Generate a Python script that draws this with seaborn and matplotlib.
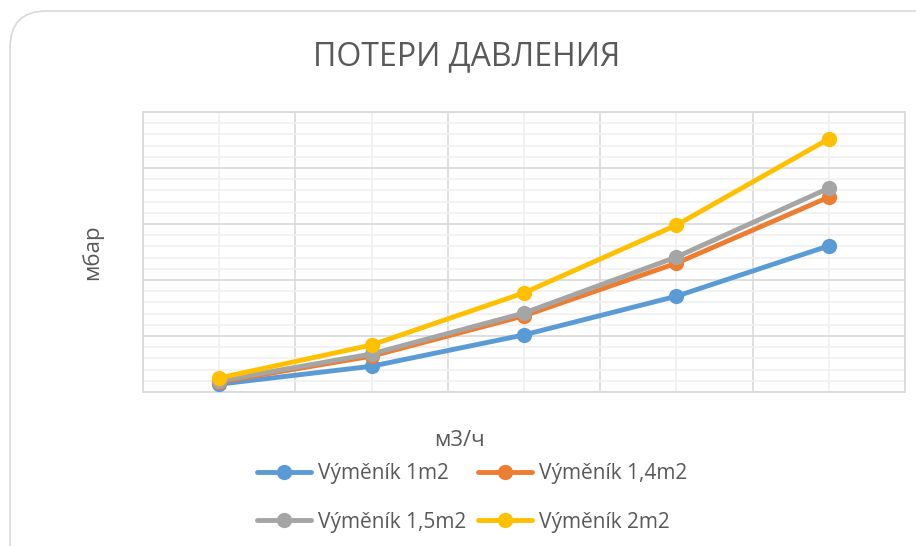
import numpy as np
import pandas as pd
import matplotlib
matplotlib.use("Agg")
import matplotlib.pyplot as plt
from matplotlib.patches import FancyBboxPatch
from matplotlib.ticker import MultipleLocator
import seaborn as sns

# расход, м3/ч (категории без подписей)
flow = [1, 2, 3, 4, 5]
# потери давления, мбар
v_1m2 = [1.4, 4.6, 10.2, 17.1, 26.1]
v_14m2 = [1.8, 6.4, 13.6, 23.0, 34.8]
v_15m2 = [2.0, 6.8, 14.1, 24.1, 36.4]
v_2m2 = [2.5, 8.4, 17.7, 29.8, 45.2]

series = ["Výměník 1m2", "Výměník 1,4m2", "Výměník 1,5m2", "Výměník 2m2"]
colors = ["#5B9BD5", "#ED7D31", "#A5A5A5", "#FFC000"]

df = pd.DataFrame({
    "x": list(range(len(flow))) * 4,
    "y": v_1m2 + v_14m2 + v_15m2 + v_2m2,
    "serie": [s for s in series for _ in flow],
})

sns.set_style("white")
plt.rcParams['font.family'] = ['Open Sans', 'DejaVu Sans']
txt = "#595959"

fig = plt.figure(figsize=(9.16, 5.46), dpi=100)
# рамка диаграммы со скруглёнными углами
frame = FancyBboxPatch((10 / 916, -0.2), 1.2, 1.2 - 11 / 546,
                       boxstyle="round,pad=0,rounding_size=0.04",
                       transform=fig.transFigure, fc="white", ec="#d9d9d9", lw=1.2,
                       mutation_aspect=916 / 546, zorder=-10)
fig.patches.append(frame)

ax = fig.add_axes([143 / 916, 1 - 392 / 546, (905 - 143) / 916, (392 - 112) / 546])
ax.set_facecolor("none")

sns.lineplot(data=df, x="x", y="y", hue="serie", palette=colors, ax=ax,
             marker="o", markersize=11, markeredgewidth=0, linewidth=3.5, zorder=3)

ax.set_xlim(-0.5, len(flow) - 0.5)
ax.set_ylim(0, 50)
ax.set_xticks(np.arange(-0.5, len(flow), 1.0))
ax.set_xticks(np.arange(0, len(flow), 1.0), minor=True)
ax.yaxis.set_major_locator(MultipleLocator(10))
ax.yaxis.set_minor_locator(MultipleLocator(2))
ax.grid(which="major", color="#d9d9d9", lw=1.2)
ax.grid(which="minor", color="#f0f0f0", lw=1.2)
ax.tick_params(which="both", length=0, labelleft=False, labelbottom=False)
for sp in ax.spines.values():
    sp.set_color("#d9d9d9")
    sp.set_linewidth(1.2)

ax.set_xlabel("")
ax.set_ylabel("")
fig.text(467 / 916, 1 - 57 / 546, "ПОТЕРИ ДАВЛЕНИЯ", ha="center", va="center",
         fontsize=23, color=txt)
fig.text(92 / 916, 1 - 252 / 546, "мбар", ha="center", va="center", rotation=90,
         fontsize=16, color=txt)
fig.text(459 / 916, 1 - 440 / 546, "м3/ч", ha="center", va="center",
         fontsize=16, color=txt)

handles, labels = ax.get_legend_handles_labels()
ax.legend_.remove()
order = [0, 2, 1, 3]
fig.legend([handles[i] for i in order], [labels[i] for i in order], ncol=2,
           loc="center", bbox_to_anchor=(472 / 916, 1 - 498 / 546),
           frameon=False, fontsize=15, labelcolor=txt, handlelength=2.6,
           handletextpad=0.3, columnspacing=0.6, labelspacing=1.3, borderpad=0)

fig.savefig("out.png", dpi=100)
